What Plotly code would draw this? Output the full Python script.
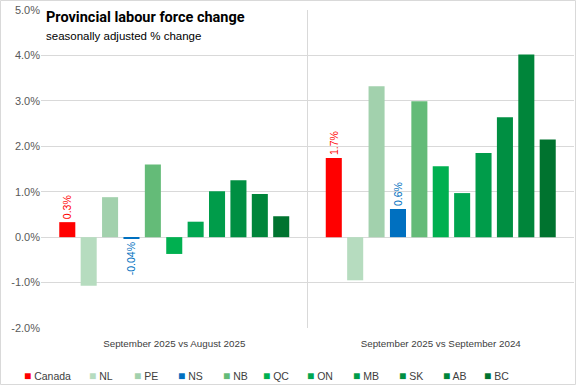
import plotly.graph_objects as go

# ---------------- data ----------------
periods = ["September 2025 vs August 2025", "September 2025 vs September 2024"]
regions = ["Canada", "NL", "PE", "NS", "NB", "QC", "ON", "MB", "SK", "AB", "BC"]
change_month = [0.33, -1.07, 0.88, -0.04, 1.60, -0.37, 0.34, 1.01, 1.25, 0.95, 0.46]
change_year = [1.74, -0.95, 3.32, 0.62, 2.99, 1.56, 0.97, 1.85, 2.64, 4.02, 2.15]
value_labels = {"Canada": ["0.3%", "1.7%"], "NS": ["-0.04%", "0.6%"]}
y_ticks = [-2, -1, 0, 1, 2, 3, 4, 5]
y_tick_labels = ["-2.0%", "-1.0%", "0.0%", "1.0%", "2.0%", "3.0%", "4.0%", "5.0%"]
title_text = "Provincial labour force change"
subtitle_text = "seasonally adjusted % change"

# ---------------- style ----------------
colors = ["#ff0000", "#b6dcbf", "#a2d1ad", "#0070c0", "#64bb78", "#00b050",
          "#00a650", "#009c4a", "#008f42", "#00853a", "#00732f"]
W, H = 576, 385
ML, MR, MT, MB = 41, 2, 10, 57
PW, PH = W - ML - MR, H - MT - MB
legend_px = [22.7, 88, 132.7, 177, 221.7, 261.7, 306, 352, 397.7, 441.7, 483.3]
legend_py = 376
grid = "#d9d9d9"
FONT = "Liberation Sans"


def px_x(px):
    return (px - ML) / PW


def px_y(py):
    return (H - MB - py) / PH


fig = go.Figure()
for i, r in enumerate(regions):
    lbl = value_labels.get(r)
    fig.add_trace(go.Bar(
        x=periods, y=[change_month[i], change_year[i]], name=r,
        marker=dict(color=colors[i], line=dict(width=0)),
        showlegend=False,
        text=lbl, textposition="outside" if lbl else "none",
        textangle=-90, constraintext="none", cliponaxis=False,
        textfont=dict(color=colors[i], size=10.5, family=FONT),
    ))

annotations = [
    dict(text="<b>" + title_text + "</b>", x=px_x(44), y=px_y(17), xref="paper", yref="paper",
         xanchor="left", yanchor="middle", showarrow=False,
         font=dict(family="Roboto", size=14.5, color="#000000")),
    dict(text=subtitle_text, x=px_x(44), y=px_y(36), xref="paper", yref="paper",
         xanchor="left", yanchor="middle", showarrow=False,
         font=dict(family=FONT, size=11.5, color="#000000")),
]
for i, r in enumerate(regions):
    annotations.append(dict(
        text="<span style='color:%s;font-size:12px'>■</span> %s" % (colors[i], r),
        x=px_x(legend_px[i] - 1), y=px_y(legend_py), xref="paper", yref="paper",
        xanchor="left", yanchor="middle", showarrow=False,
        font=dict(family=FONT, size=10.5, color="#404040")))

fig.update_layout(
    width=W, height=H,
    margin=dict(l=ML, r=MR, t=MT, b=MB),
    paper_bgcolor="white", plot_bgcolor="white",
    barmode="group", bargap=0.117, bargroupgap=0.25,
    showlegend=False,
    font=dict(family=FONT, size=11, color="#595959"),
    annotations=annotations,
    shapes=[dict(type="rect", xref="paper", yref="paper",
                 x0=px_x(0.5), x1=px_x(W - 0.5), y0=px_y(H - 0.5), y1=px_y(0.5),
                 line=dict(color=grid, width=1), layer="below")],
)
fig.update_xaxes(showgrid=True, gridcolor=grid, gridwidth=1, tickson="boundaries",
                 ticks="", showline=False, zeroline=False,
                 tickfont=dict(family=FONT, size=9.8, color="#404040"),
                 ticklabelstandoff=8)
fig.update_yaxes(range=[-2, 5], tickvals=y_ticks, ticktext=y_tick_labels,
                 showgrid=True, gridcolor=grid, gridwidth=1,
                 zeroline=True, zerolinecolor=grid, zerolinewidth=1,
                 showline=False, ticks="",
                 tickfont=dict(family=FONT, size=11, color="#595959"))

fig.write_html("out.html", config={"displayModeBar": False},
               post_script="document.body.style.margin='0';document.body.style.padding='0';")
